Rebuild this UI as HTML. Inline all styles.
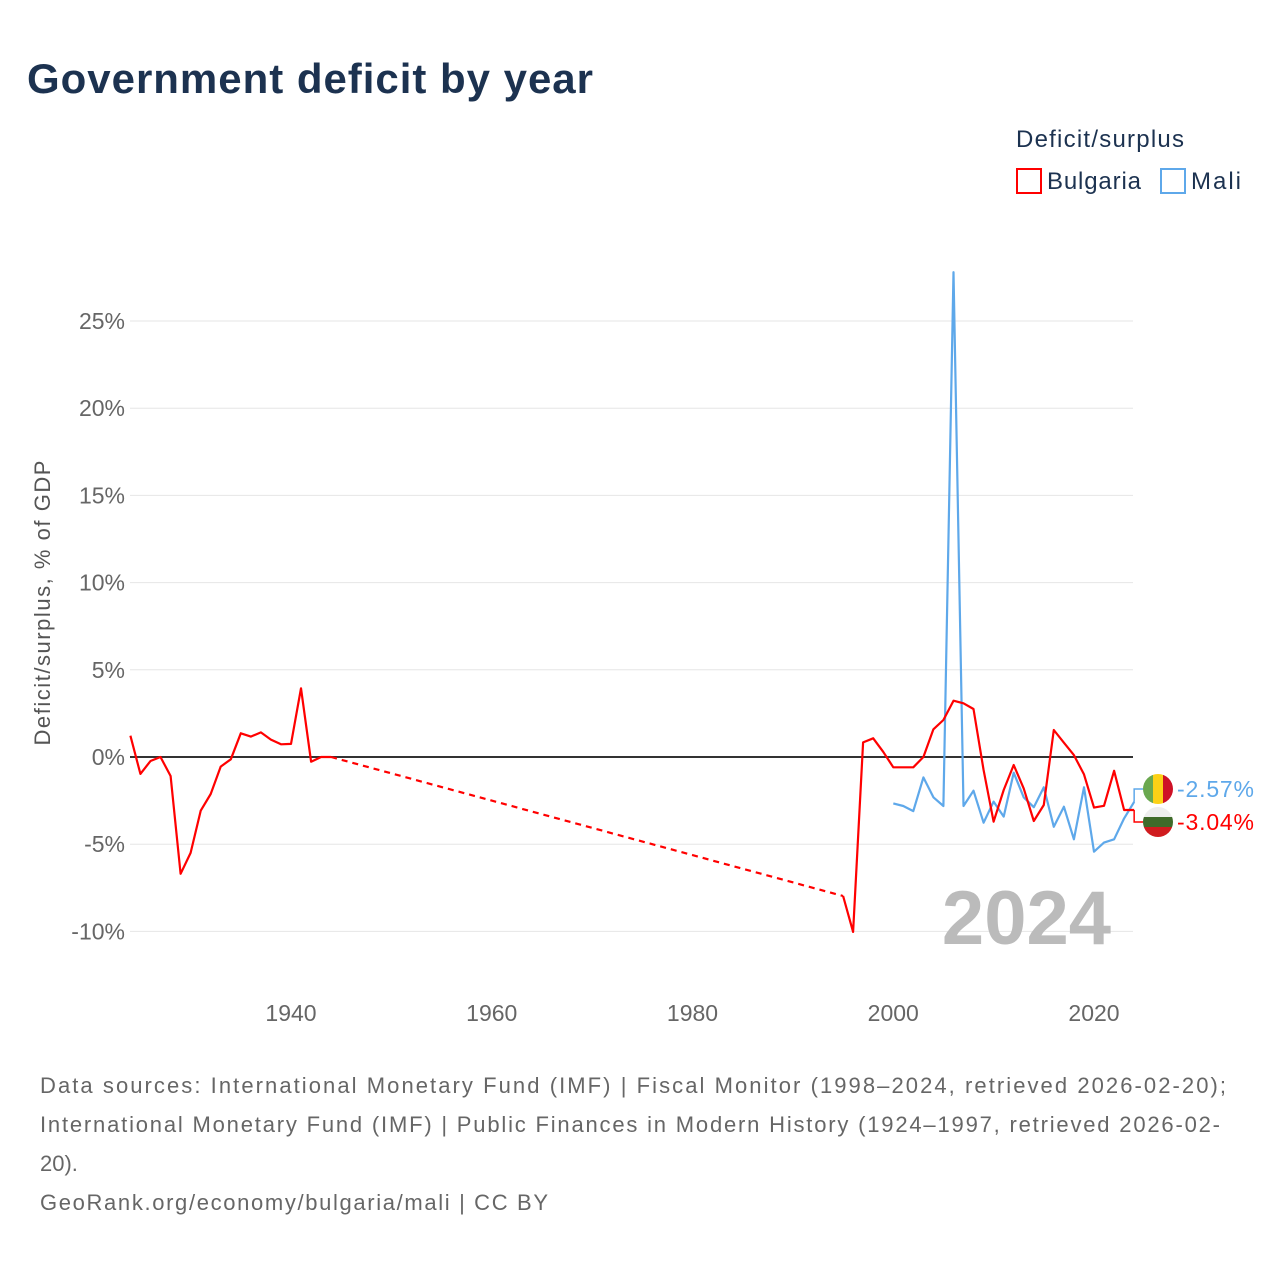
<!DOCTYPE html>
<html><head><meta charset="utf-8">
<style>
body{margin:0;background:#fff;font-family:"Liberation Sans",sans-serif;}
svg text{font-family:"Liberation Sans",sans-serif;}
</style></head>
<body>
<svg width="1280" height="1280">
<text x="27" y="93" font-size="42" font-weight="bold" fill="#1c3250" textLength="566">Government deficit by year</text>
<text x="1016" y="147" font-size="24" fill="#1c3250" textLength="168">Deficit/surplus</text>
<rect x="1017" y="169" width="24" height="24" fill="none" stroke="#ff0000" stroke-width="2"/>
<text x="1047" y="189" font-size="24" fill="#1c3250" textLength="94">Bulgaria</text>
<rect x="1161" y="169" width="24" height="24" fill="none" stroke="#5ea8ea" stroke-width="2"/>
<text x="1191" y="189" font-size="24" fill="#1c3250" textLength="50">Mali</text>
<text transform="translate(50,603) rotate(-90)" text-anchor="middle" font-size="22" fill="#555" textLength="285">Deficit/surplus, % of GDP</text>
<g id="grid"></g>
<text x="1111" y="944" text-anchor="end" font-size="76" font-weight="bold" fill="#bbb">2024</text>
<g id="series"></g>
<g id="labels"></g>
<text x="40" y="1093" font-size="22" fill="#666" textLength="1186">Data sources: International Monetary Fund (IMF) | Fiscal Monitor (1998–2024, retrieved 2026-02-20);</text>
<text x="40" y="1132" font-size="22" fill="#666" textLength="1180">International Monetary Fund (IMF) | Public Finances in Modern History (1924–1997, retrieved 2026-02-</text>
<text x="40" y="1171" font-size="22" fill="#666">20).</text>
<text x="40" y="1210" font-size="22" fill="#666" textLength="508">GeoRank.org/economy/bulgaria/mali | CC BY</text>
</svg>
<script>
const yTicks=[-10,-5,0,5,10,15,20,25];
const xTicks=[1940,1960,1980,2000,2020];
const bgYearsEarly=[1924,1925,1926,1927,1928,1929,1930,1931,1932,1933,1934,1935,1936,1937,1938,1939,1940,1941,1942,1943,1944];
const bgValsEarly=[1.22,-0.97,-0.23,0,-1.09,-6.7,-5.5,-3.08,-2.12,-0.55,-0.13,1.36,1.17,1.41,1.0,0.73,0.75,3.94,-0.27,0,0];
const bgYearsGap=[1944,1995];
const bgValsGap=[0,-7.97];
const bgYearsLate=[1995,1996,1997,1998,1999,2000,2001,2002,2003,2004,2005,2006,2007,2008,2009,2010,2011,2012,2013,2014,2015,2016,2017,2018,2019,2020,2021,2022,2023,2024];
const bgValsLate=[-7.97,-10.03,0.84,1.07,0.3,-0.59,-0.59,-0.59,0,1.59,2.12,3.23,3.08,2.75,-0.75,-3.71,-1.89,-0.46,-1.8,-3.67,-2.75,1.55,0.82,0.11,-1.0,-2.9,-2.8,-0.79,-3.04,-3.04];
const mlYears=[2000,2001,2002,2003,2004,2005,2006,2007,2008,2009,2010,2011,2012,2013,2014,2015,2016,2017,2018,2019,2020,2021,2022,2023,2024];
const mlVals=[-2.66,-2.81,-3.1,-1.17,-2.31,-2.81,27.8,-2.81,-1.93,-3.77,-2.56,-3.42,-0.9,-2.31,-2.88,-1.74,-4.0,-2.85,-4.72,-1.74,-5.43,-4.91,-4.72,-3.52,-2.57];

const NS='http://www.w3.org/2000/svg';
const xs=y=>291+(y-1940)*10.0375;
const ys=v=>757-v*17.44;
const X0=130,X1=1133;
function mk(t,a,p){const e=document.createElementNS(NS,t);for(const k in a)e.setAttribute(k,a[k]);p.appendChild(e);return e;}
const grid=document.getElementById('grid');
yTicks.forEach(v=>{
  const l=mk('line',{x1:X0,x2:X1,y1:ys(v),y2:ys(v),stroke:'#e6e6e6','stroke-width':1},grid);
  
  
  const t=mk('text',{x:125,y:ys(v)+8,'text-anchor':'end','font-size':23,fill:'#666'},grid);
  t.textContent=v+'%';
  
  
});
const z=mk('line',{x1:X0,x2:X1,y1:ys(0),y2:ys(0),stroke:'#333','stroke-width':2},grid);


xTicks.forEach(y=>{
  const t=mk('text',{x:xs(y),y:1021,'text-anchor':'middle','font-size':23,fill:'#666'},grid);
  t.textContent=y;
  
  
});
const s=document.getElementById('series');
function line(yrs,vals,color,name,dash){
  const d=yrs.map((y,i)=>(i?'L':'M')+xs(y).toFixed(1)+','+ys(vals[i]).toFixed(1)).join('');
  const p=mk('path',{d:d,fill:'none',stroke:color,'stroke-width':2.2,'stroke-linejoin':'round'},s);
  if(dash)p.setAttribute('stroke-dasharray','6,5');
  
  
}
line(mlYears,mlVals,'#5ea8ea','mali-line');
line(bgYearsEarly,bgValsEarly,'#ff0000','bulgaria-line-early');
line(bgYearsGap,bgValsGap,'#ff0000','bulgaria-line-gap',true);
line(bgYearsLate,bgValsLate,'#ff0000','bulgaria-line-late');

const L=document.getElementById('labels');
const defs=mk('defs',{},L);
function endLabel(val,ly,color,name,flag){
  const x=xs(2024),y=ys(val);
  const c=mk('path',{d:`M${x},${y}L${x},${ly}L${x+9},${ly}`,fill:'none',stroke:color,'stroke-width':1.5},L);
  
  
  const cx=1158,r=15;
  const cp=mk('clipPath',{id:'cp'+name},defs);
  mk('circle',{cx:cx,cy:ly,r:r},cp);
  const g=mk('g',{'clip-path':`url(#cp${name})`},L);
  
  
  if(flag==='mali'){
    mk('rect',{x:cx-r,y:ly-r,width:10,height:30,fill:'#6aa84f'},g);
    mk('rect',{x:cx-5,y:ly-r,width:10,height:30,fill:'#fcd116'},g);
    mk('rect',{x:cx+5,y:ly-r,width:10,height:30,fill:'#ce1126'},g);
  }else{
    mk('rect',{x:cx-r,y:ly-r,width:30,height:10,fill:'#eee'},g);
    mk('rect',{x:cx-r,y:ly-5,width:30,height:10,fill:'#3f6b2a'},g);
    mk('rect',{x:cx-r,y:ly+5,width:30,height:10,fill:'#d01c1f'},g);
  }
  const t=mk('text',{x:1177,y:ly+8,'font-size':23,fill:color,textLength:77},L);
  t.textContent=val.toFixed(2)+'%';
  
  
}
endLabel(mlVals[mlVals.length-1],789,'#5ea8ea','mali','mali');
endLabel(bgValsLate[bgValsLate.length-1],822,'#ff0000','bulgaria','bulgaria');
</script>
</body></html>
